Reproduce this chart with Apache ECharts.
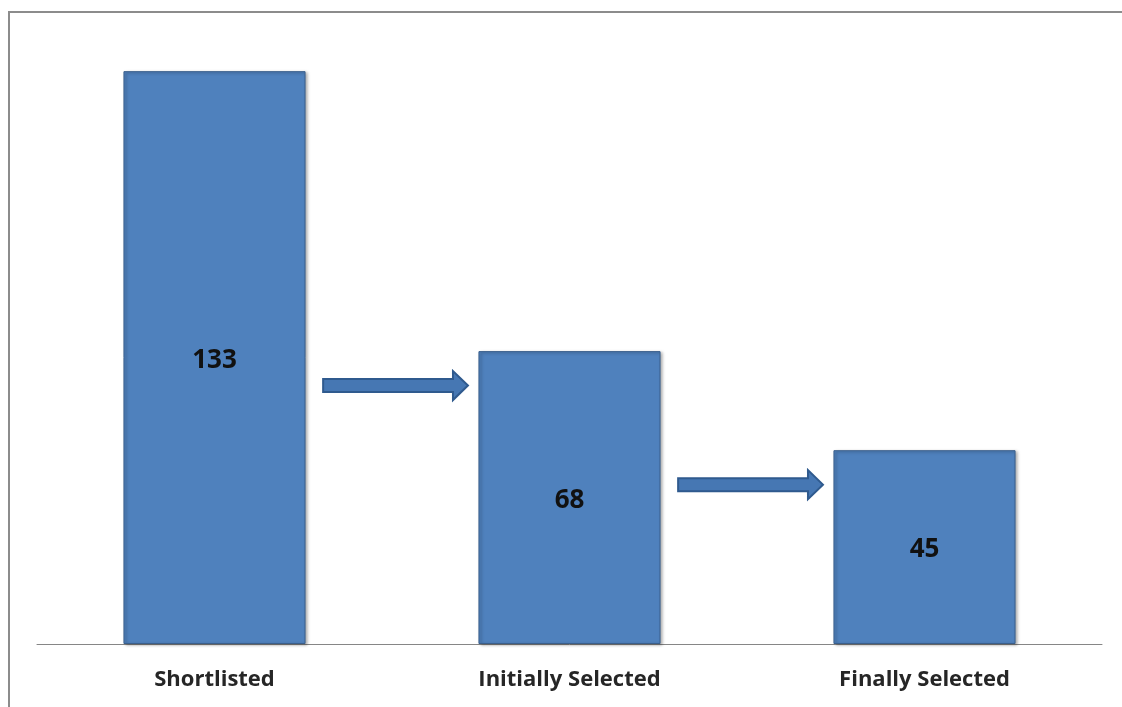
<!DOCTYPE html>
<html>
<head>
<meta charset="utf-8">
<script src="https://cdn.jsdelivr.net/npm/echarts@6/dist/echarts.min.js"></script>
<style>
html,body{margin:0;padding:0;background:#fff;}
#chart{width:1122px;height:707px;}
</style>
</head>
<body>
<div id="chart"></div>
<script>
const categories = ['Shortlisted', 'Initially Selected', 'Finally Selected'];
const values = [133, 68, 45];
// arrows: [from category index, level on value axis]
const arrowFrom = [0, 1];
const arrowLevel = [60, 37];

const chart = echarts.init(document.getElementById('chart'));
const arrowData = arrowFrom.map((c, i) => [c, arrowLevel[i]]);

chart.setOption({
  backgroundColor: '#ffffff',
  animation: false,
  graphic: [{
    type: 'polyline',
    silent: true,
    shape: { points: [[9, 800], [9, 12], [1200, 12]] },
    style: { stroke: '#8c8c8c', lineWidth: 2, fill: null }
  }],
  grid: { left: 37, right: 20, top: 41, bottom: 63, containLabel: false },
  xAxis: {
    type: 'category',
    data: categories,
    axisLine: { show: true, lineStyle: { color: '#868686', width: 1 } },
    axisTick: { show: false },
    axisLabel: {
      margin: 25,
      color: '#262626',
      fontFamily: 'Open Sans',
      fontWeight: 'bold',
      fontSize: 22
    }
  },
  yAxis: {
    type: 'value',
    min: 0,
    max: 140,
    show: false,
    splitLine: { show: false }
  },
  series: [{
    type: 'bar',
    data: values,
    barWidth: '51.3%',
    itemStyle: {
      color: '#4f81bd',
      borderColor: '#3a5f8c',
      borderWidth: 1,
      shadowColor: 'rgba(0,0,0,0.35)',
      shadowBlur: 3,
      shadowOffsetX: 2,
      shadowOffsetY: 1
    },
    label: {
      show: true,
      position: 'inside',
      offset: [0, 3],
      color: '#111111',
      fontFamily: 'Open Sans',
      fontWeight: 'bold',
      fontSize: 26
    }
  }, {
    type: 'custom',
    data: arrowData,
    silent: true,
    renderItem: function (params, api) {
      const c = api.coord([api.value(0), api.value(1)]);
      const band = api.size([1, 0])[0];
      const x0 = c[0] + band * 0.306;
      const x1 = c[0] + band * 0.714;
      const y = c[1];
      const sh = 6.5, hh = 14.5, hl = 15;
      const xb = x1 - hl;
      return {
        type: 'polygon',
        shape: {
          points: [
            [x0, y - sh], [xb, y - sh], [xb, y - hh], [x1, y],
            [xb, y + hh], [xb, y + sh], [x0, y + sh]
          ]
        },
        style: { fill: '#4677b3', stroke: '#2f5a8e', lineWidth: 2 }
      };
    }
  }]
});
</script>
</body>
</html>
